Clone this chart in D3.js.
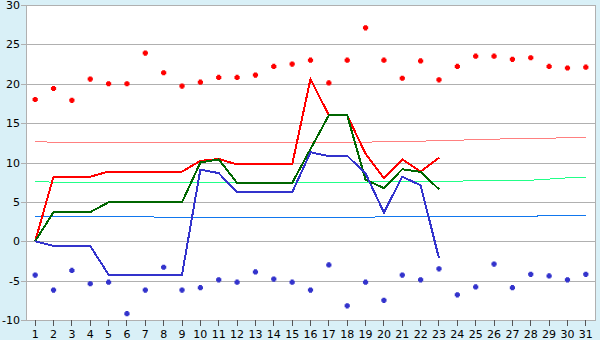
<!DOCTYPE html>
<html>
<head>
<meta charset="utf-8">
<script src="https://cdn.jsdelivr.net/npm/d3@7"></script>
<style>
  html, body { margin: 0; padding: 0; background: #d9f0f7; }
  svg { display: block; }
  text { font-family: "DejaVu Sans", Verdana, sans-serif; font-size: 11px; fill: #000; }
</style>
</head>
<body>
<svg id="chart" width="600" height="340"></svg>
<script>
const days = [1,2,3,4,5,6,7,8,9,10,11,12,13,14,15,16,17,18,19,20,21,22,23,24,25,26,27,28,29,30,31];
const yTicks = [-10,-5,0,5,10,15,20,25,30];

// daily max / min (dots)
const maxTemp = [18.0,19.4,17.9,20.6,20.0,20.0,23.9,21.4,19.7,20.2,20.8,20.8,21.1,22.2,22.5,23.0,20.1,23.0,27.1,23.0,20.7,22.9,20.5,22.2,23.5,23.5,23.1,23.3,22.2,22.0,22.1];
const minTemp = [-4.3,-6.2,-3.7,-5.4,-5.2,-9.2,-6.2,-3.3,-6.2,-5.9,-4.9,-5.2,-3.9,-4.8,-5.2,-6.2,-3.0,-8.2,-5.2,-7.5,-4.3,-4.9,-3.5,-6.8,-5.8,-2.9,-5.9,-4.2,-4.4,-4.9,-4.2];

// thick lines (days 1..23)
const redLine   = [0,8.2,8.2,8.2,8.85,8.85,8.85,8.85,8.85,10.2,10.45,9.75,9.75,9.75,9.75,20.6,16.0,16.0,11.1,8.0,10.4,8.85,10.6];
const greenLine = [0,3.7,3.7,3.7,4.95,4.95,4.95,4.95,4.95,10.0,10.4,7.4,7.4,7.4,7.4,11.7,16.0,16.0,7.8,6.75,9.15,8.8,6.6];
const blueLine  = [0,-0.6,-0.6,-0.6,-4.25,-4.25,-4.25,-4.25,-4.25,9.1,8.65,6.2,6.2,6.2,6.2,11.3,10.8,10.85,8.6,3.65,8.2,7.1,-2.15];

// thin normal lines (days 1..31)
const pinkNormal  = [12.7,12.55,12.55,12.55,12.55,12.55,12.55,12.55,12.55,12.55,12.55,12.55,12.55,12.55,12.55,12.55,12.55,12.55,12.55,12.7,12.7,12.7,12.8,12.8,12.95,12.95,13.05,13.05,13.05,13.2,13.2];
const greenNormal = [7.6,7.5,7.5,7.5,7.5,7.5,7.5,7.5,7.5,7.5,7.5,7.5,7.5,7.5,7.5,7.5,7.5,7.5,7.5,7.6,7.6,7.6,7.6,7.6,7.75,7.75,7.75,7.75,7.9,8.05,8.05];
const blueNormal  = [3.15,3.15,3.15,3.15,3.15,3.15,3.15,3.0,3.0,3.0,3.0,3.0,3.0,3.0,3.0,3.0,3.0,3.0,3.0,3.15,3.15,3.15,3.15,3.15,3.15,3.15,3.15,3.15,3.3,3.3,3.3];

const L = 26, R = 595, T = 5, B = 320;
const svg = d3.select("#chart");

const x = d3.scaleBand().domain(days).range([L, R]);
const cx = d => x(d) + x.bandwidth() / 2;
const y = d3.scaleLinear().domain([-10, 30]).range([B, T]);

// plot background
svg.append("rect").attr("x", L).attr("y", T).attr("width", R - L).attr("height", B - T).attr("fill", "#fff");

// gridlines + y axis
const yAxis = d3.axisLeft(y).tickValues(yTicks).tickFormat(d => String(d))
  .tickSize(-(R - L)).tickSizeOuter(0).tickPadding(6);
const gy = svg.append("g").attr("transform", `translate(${L},0)`).call(yAxis);
gy.select(".domain").remove();
gy.selectAll(".tick line").attr("stroke", "#b0b0b0").attr("x1", -5).attr("shape-rendering", "crispEdges");
gy.selectAll(".tick text").style("font-size", "11px");

// frame lines
svg.append("line").attr("x1", L).attr("x2", L).attr("y1", T).attr("y2", B).attr("stroke", "#b0b0b0").attr("shape-rendering", "crispEdges");
svg.append("line").attr("x1", R).attr("x2", R).attr("y1", T).attr("y2", B).attr("stroke", "#b0b0b0").attr("shape-rendering", "crispEdges");

// x axis
const xAxis = d3.axisBottom(x).tickSize(6).tickSizeOuter(0).tickPadding(4);
const gx = svg.append("g").attr("transform", `translate(0,${B})`).call(xAxis);
gx.select(".domain").attr("stroke", "#b0b0b0").attr("shape-rendering", "crispEdges");
gx.selectAll(".tick line").attr("stroke", "#555").attr("shape-rendering", "crispEdges");
gx.selectAll(".tick text").style("font-size", "11px");

const line = d3.line().x((v, i) => cx(days[i])).y(v => y(v));

function drawLine(data, color, width) {
  svg.append("path").datum(data).attr("d", line).attr("fill", "none")
    .attr("stroke", color).attr("stroke-width", width)
    .attr("stroke-linejoin", "miter").attr("shape-rendering", "crispEdges");
}

drawLine(pinkNormal, "#ff8080", 1);
drawLine(greenNormal, "#22ff88", 1);
drawLine(blueNormal, "#1177ee", 1);
drawLine(redLine, "#ff0000", 2);
drawLine(greenLine, "#006600", 2);
drawLine(blueLine, "#3333cc", 2);

// 5x5 plus-shaped marker with clipped corners
const plusBlob = {
  draw(ctx) {
    const a = 1.5, b = 2.6;
    ctx.moveTo(-a, -b); ctx.lineTo(a, -b); ctx.lineTo(a, -a); ctx.lineTo(b, -a);
    ctx.lineTo(b, a); ctx.lineTo(a, a); ctx.lineTo(a, b); ctx.lineTo(-a, b);
    ctx.lineTo(-a, a); ctx.lineTo(-b, a); ctx.lineTo(-b, -a); ctx.lineTo(-a, -a);
    ctx.closePath();
  }
};
const sym = d3.symbol().type(plusBlob);
function drawDots(data, color) {
  svg.append("g").selectAll("path").data(data).join("path")
    .attr("d", sym)
    .attr("transform", (v, i) => `translate(${cx(days[i])},${y(v)})`)
    .attr("fill", color);
}
drawDots(maxTemp, "#ff0000");
drawDots(minTemp, "#3333cc");
</script>
</body>
</html>
